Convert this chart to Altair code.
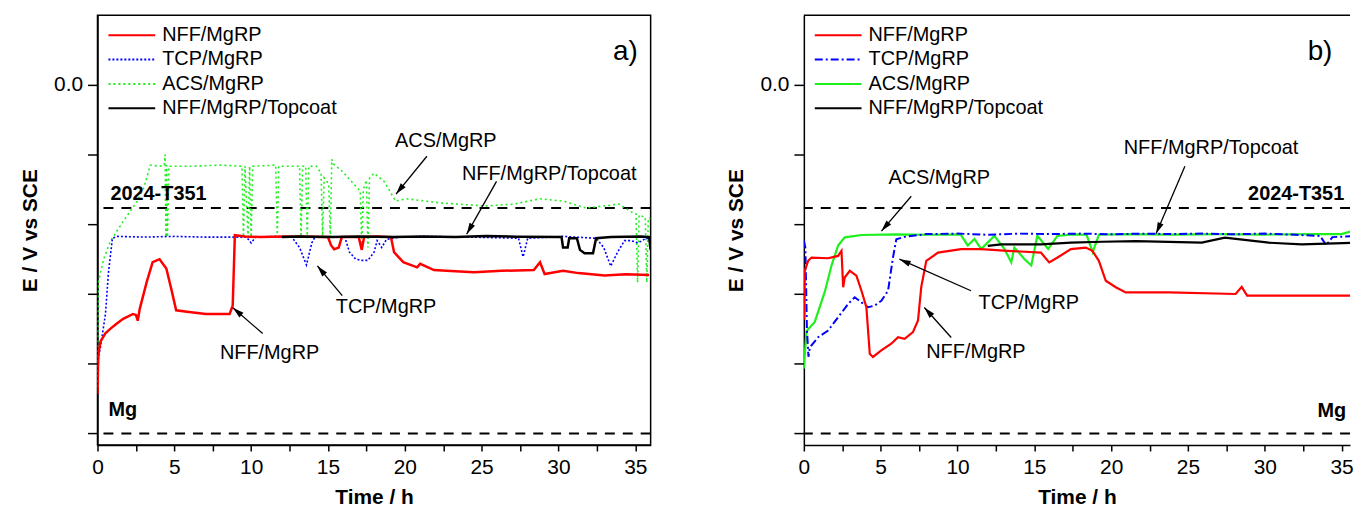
import math
import altair as alt
import pandas as pd

FONT = "Liberation Sans"
SERIES = ["NFF/MgRP", "TCP/MgRP", "ACS/MgRP", "NFF/MgRP/Topcoat"]
COLORS = ["#ff0000", "#0000ff", "#1ef01e", "#000000"]

# ---------------- panel a) ----------------
a_nff_t = [0, 0.03, 0.06, 0.19, 0.5, 0.83, 1.2, 1.67, 2.31, 2.5, 2.62, 2.75, 3.2, 3.59, 4.04, 4.48, 4.8, 5.12,
           5.96, 7.05, 8.6, 8.8, 8.94, 9.6, 10.6, 12.1, 15.0, 15.2, 15.4, 15.7, 15.9, 17.0, 17.2, 17.35, 18.2,
           19.1, 19.3, 19.9, 20.8, 21.0, 21.9, 22.7, 24.5, 26.3, 28.4, 28.8, 29.1, 30.3, 31.3, 33.0, 34.4, 35.9]
a_nff_e = [-1.33, -1.22, -1.16, -1.105, -1.07, -1.05, -1.03, -1.007, -0.986, -0.99, -1.015, -0.964, -0.849,
           -0.763, -0.75, -0.79, -0.878, -0.97, -0.977, -0.986, -0.986, -0.95, -0.647, -0.652, -0.655, -0.652,
           -0.655, -0.69, -0.707, -0.70, -0.655, -0.655, -0.71, -0.655, -0.652, -0.655, -0.72, -0.763, -0.785,
           -0.77, -0.797, -0.80, -0.806, -0.80, -0.797, -0.763, -0.814, -0.80, -0.81, -0.82, -0.815, -0.818]

a_tcp_t = [0, 0.1, 0.19, 0.35, 0.52, 0.71, 0.97, 1.3, 3, 5, 7, 9.7, 10.0, 10.3, 11.6, 12.65, 13.15, 13.6, 13.95,
           14.15, 16.1, 16.4, 16.8, 17.2, 17.6, 18.0, 18.2, 18.5, 18.8, 19.7, 21.2, 24.3, 27.4, 27.7, 28.0, 30.3,
           32.45, 32.95, 33.4, 33.85, 34.3, 34.7, 35.2, 35.7, 36.0]
a_tcp_e = [-1.2, -1.16, -1.13, -1.06, -0.985, -0.81, -0.66, -0.652, -0.655, -0.652, -0.655, -0.655, -0.68,
           -0.655, -0.652, -0.655, -0.70, -0.775, -0.68, -0.655, -0.655, -0.72, -0.75, -0.755, -0.755, -0.72,
           -0.67, -0.70, -0.665, -0.655, -0.652, -0.655, -0.66, -0.74, -0.66, -0.652, -0.66, -0.70, -0.78, -0.72,
           -0.67, -0.67, -0.68, -0.66, -0.665]

a_acs_t = [0, 0.02, 0.05, 0.4, 0.84, 1.69, 2.59, 3.03, 3.44, 4.04, 4.35, 4.4, 4.45, 4.5, 4.55, 4.65, 6.07, 8.1,
           9.4, 9.5, 9.6, 9.8, 9.9, 10.0, 10.1, 10.2, 11.6, 11.7, 11.8, 13.15, 13.25, 13.35, 13.55, 13.65, 13.75,
           14.25, 14.55, 14.65, 14.75, 15.05, 15.15, 15.25, 15.35, 15.93, 17.1, 17.2, 17.3, 17.5, 17.6, 17.7,
           18.0, 18.65, 19.4, 20.1, 22.35, 25.2, 27.1, 28.8, 30.3, 31.8, 33.95, 34.85, 35.05, 35.15, 35.25,
           35.65, 35.75, 35.85, 36.0]
a_acs_e = [-1.30, -1.05, -0.85, -0.75, -0.672, -0.586, -0.50, -0.44, -0.345, -0.35, -0.345, -0.30, -0.655,
           -0.345, -0.655, -0.35, -0.35, -0.345, -0.35, -0.655, -0.35, -0.655, -0.35, -0.655, -0.35, -0.35, -0.345,
           -0.655, -0.35, -0.35, -0.655, -0.35, -0.35, -0.66, -0.35, -0.35, -0.38, -0.65, -0.40, -0.427, -0.655,
           -0.32, -0.34, -0.372, -0.457, -0.70, -0.45, -0.41, -0.70, -0.402, -0.38, -0.415, -0.50, -0.49, -0.508,
           -0.521, -0.513, -0.49, -0.50, -0.53, -0.513, -0.551, -0.555, -0.85, -0.56, -0.57, -0.85, -0.573, -0.575]

a_top_t = [12.0, 13.1, 15.2, 17.2, 19.2, 21.2, 23.3, 25.3, 27.3, 30.2, 30.3, 30.6, 30.7, 31.2, 31.4, 31.7,
           32.25, 32.45, 33.4, 35.4, 35.9, 36.0]
a_top_e = [-0.655, -0.652, -0.655, -0.652, -0.655, -0.652, -0.655, -0.65, -0.653, -0.655, -0.70, -0.70, -0.66,
           -0.66, -0.71, -0.725, -0.725, -0.66, -0.655, -0.652, -0.655, -0.71]

a_ann_text = ["ACS/MgRP", "NFF/MgRP/Topcoat", "TCP/MgRP", "NFF/MgRP"]
a_ann_t = [22.67, 29.4, 18.78, 11.2]
a_ann_e = [-0.243, -0.385, -0.955, -1.152]
a_arr_t0 = [21.44, 25.97, 15.93, 10.75]
a_arr_e0 = [-0.307, -0.415, -0.907, -1.07]
a_arr_t1 = [19.43, 24.03, 14.31, 8.81]
a_arr_e1 = [-0.47, -0.642, -0.779, -0.959]

# ---------------- panel b) ----------------
b_nff_t = [0, 0.04, 0.06, 0.28, 0.5, 1.58, 2.23, 2.45, 2.56, 2.66, 2.99, 3.42, 3.75, 4.07, 4.29, 4.5, 5.04,
           5.69, 6.13, 6.56, 7.1, 7.43, 7.64, 7.97, 8.73, 10.23, 11.54, 13.27, 15.43, 15.97, 16.51, 17.38, 18.35,
           18.78, 19.2, 19.65, 20.3, 20.95, 23.77, 28.1, 28.5, 28.85, 30.26, 36]
b_nff_e = [-0.85, -1.01, -0.80, -0.757, -0.743, -0.746, -0.736, -0.714, -0.871, -0.829, -0.80, -0.821, -0.886,
           -0.957, -1.157, -1.171, -1.143, -1.114, -1.086, -1.093, -1.064, -1.014, -0.871, -0.757, -0.722,
           -0.707, -0.707, -0.714, -0.722, -0.764, -0.743, -0.707, -0.70, -0.714, -0.757, -0.843, -0.871, -0.893,
           -0.893, -0.90, -0.869, -0.907, -0.907, -0.907]

b_tcp_t = [0, 0.1, 0.2, 0.3, 0.39, 0.93, 1.58, 2.23, 2.88, 3.31, 3.75, 4.18, 4.61, 5.04, 5.48, 5.8, 6.02, 6.56,
           8, 10, 12, 14, 16, 18, 20, 22, 24, 26, 28, 30, 32, 33.6, 34.0, 34.4, 36]
b_tcp_e = [-0.67, -0.70, -1.05, -1.17, -1.13, -1.086, -1.057, -1.0, -0.943, -0.914, -0.936, -0.957, -0.95,
           -0.929, -0.886, -0.743, -0.664, -0.654, -0.642, -0.64, -0.645, -0.64, -0.642, -0.64, -0.643, -0.64,
           -0.642, -0.64, -0.643, -0.64, -0.645, -0.65, -0.69, -0.655, -0.65]

b_acs_t = [0, 0.17, 0.71, 1.36, 1.8, 2.23, 2.66, 3.75, 6, 8, 10.2, 10.67, 11.1, 11.54, 12.4, 13.05, 13.5, 13.7,
           14.35, 14.8, 15.2, 15.9, 16.5, 17.5, 18.4, 18.8, 19.2, 21, 24, 27, 30, 33, 35.0, 35.6, 36]
b_acs_e = [-1.22, -1.06, -1.02, -0.891, -0.777, -0.691, -0.656, -0.646, -0.643, -0.645, -0.643, -0.691, -0.663,
           -0.706, -0.65, -0.706, -0.763, -0.70, -0.749, -0.777, -0.649, -0.706, -0.65, -0.643, -0.645, -0.72,
           -0.645, -0.642, -0.644, -0.642, -0.644, -0.642, -0.642, -0.63, -0.64]

b_top_t = [11.97, 12.84, 15.43, 17.38, 19.43, 21.6, 25.9, 27.4, 30.26, 32.4, 36]
b_top_e = [-0.693, -0.686, -0.686, -0.679, -0.675, -0.672, -0.679, -0.657, -0.679, -0.686, -0.679]

b_ann_text = ["ACS/MgRP", "NFF/MgRP/Topcoat", "TCP/MgRP", "NFF/MgRP"]
b_ann_t = [8.81, 26.5, 14.64, 11.2]
b_ann_e = [-0.40, -0.272, -0.937, -1.15]
b_arr_t0 = [6.99, 24.8, 10.88, 9.59]
b_arr_e0 = [-0.479, -0.35, -0.886, -1.087]
b_arr_t1 = [5.05, 22.93, 6.22, 7.84]
b_arr_e1 = [-0.629, -0.64, -0.75, -0.958]

# reference potentials
REF_E = [-0.53, -1.50]

Y_DOMAIN = [-1.55, 0.30]
H = 432
W_A = 556
W_B = 549
X_MAX_A = 36.0
X_MAX_B = 36.0 * W_B / W_A
ARROW = "M0,0L0.55,2L-0.55,2Z"


def make_panel(curves, dashes, widths, ann, bold, letter, width, xmax, framed):
    pxh = width / xmax
    pxv = H / (Y_DOMAIN[1] - Y_DOMAIN[0])
    xs = alt.Scale(domain=[0, xmax], nice=False, zero=False)
    ys = alt.Scale(domain=Y_DOMAIN, nice=False, zero=False)
    x_axis = alt.Axis(values=[i * 2.5 for i in range(15)], format="d",
                      labelExpr="datum.value % 5 === 0 ? datum.label : ''",
                      title="Time / h", labelFlush=False, labelOverlap=False)
    y_axis = alt.Axis(values=[-1.5, -1.2, -0.9, -0.6, -0.3, 0.0], format=".1f",
                      labelExpr="indexof(['0.0','-0.6','-1.2'], datum.label) >= 0 ? datum.label : ''",
                      title="E / V vs SCE", labelOverlap=False)
    X = alt.X("t:Q", scale=xs, axis=x_axis)
    Y = alt.Y("E:Q", scale=ys, axis=y_axis)

    layers = []
    layers.append(alt.Chart(pd.DataFrame({"E": REF_E})).mark_rule(
        color="black", strokeWidth=2, strokeDash=[10, 8]).encode(y=Y))

    for k in [2, 1, 0, 3]:
        t, e = curves[k]
        df = pd.DataFrame({"t": t, "E": e, "i": list(range(len(t)))})
        mk = dict(color=COLORS[k], strokeWidth=widths[k], clip=True)
        if dashes[k]:
            mk["strokeDash"] = dashes[k]
        layers.append(alt.Chart(df).mark_line(**mk).encode(x=X, y=Y, order="i:Q"))

    txt, at, ae, t0, e0, t1, e1 = ann
    layers.append(alt.Chart(pd.DataFrame({"label": txt, "t": at, "E": ae})).mark_text(
        font=FONT, fontSize=20, color="black").encode(x=X, y=Y, text="label:N"))
    layers.append(alt.Chart(pd.DataFrame({"t": t0, "E": e0, "t2": t1, "E2": e1})).mark_rule(
        color="black", strokeWidth=1.3).encode(x=X, y=Y, x2="t2:Q", y2="E2:Q"))
    ang = [math.degrees(math.atan2((b - a) * pxh, (d - c) * pxv)) % 360
           for a, b, c, d in zip(t0, t1, e0, e1)]
    layers.append(alt.Chart(pd.DataFrame({"t": t1, "E": e1, "ang": ang})).mark_point(
        shape=ARROW, filled=True, color="black", size=130, opacity=1, strokeWidth=0).encode(
        x=X, y=Y, angle=alt.Angle("ang:Q", scale=None)))

    for name, bt, be, align in bold:
        layers.append(alt.Chart(pd.DataFrame({"label": [name], "t": [bt], "E": [be]})).mark_text(
            font=FONT, fontSize=20, fontWeight="bold", align=align, baseline="middle",
            color="black").encode(x=X, y=Y, text="label:N"))

    lname, lt, le = letter
    layers.append(alt.Chart(pd.DataFrame({"label": [lname], "t": [lt], "E": [le]})).mark_text(
        font=FONT, fontSize=28, align="right", baseline="middle", color="black").encode(
        x=X, y=Y, text="label:N"))

    for i, name in enumerate(SERIES):
        yv = 20 + 24.5 * i
        mk = dict(color=COLORS[i], strokeWidth=2)
        if dashes[i]:
            mk["strokeDash"] = dashes[i]
        one = pd.DataFrame({"label": [name]})
        layers.append(alt.Chart(one).mark_rule(**mk).encode(
            x=alt.value(11), x2=alt.value(58), y=alt.value(yv)))
        layers.append(alt.Chart(one).mark_text(
            font=FONT, fontSize=20, align="left", baseline="middle", color="black").encode(
            x=alt.value(65), y=alt.value(yv), text="label:N"))

    if not framed:
        layers.append(alt.Chart(pd.DataFrame({"a": [0]})).mark_rule(
            color="black", strokeWidth=1.5).encode(
            x=alt.value(0), x2=alt.value(width), y=alt.value(0)))

    ch = alt.layer(*layers).properties(width=width, height=H)
    if not framed:
        ch = ch.properties(view=alt.ViewBackground(stroke=None))
    return ch


pa = make_panel(
    [(a_nff_t, a_nff_e), (a_tcp_t, a_tcp_e), (a_acs_t, a_acs_e), (a_top_t, a_top_e)],
    [None, [2, 2], [2, 3], None], [2.5, 1.6, 1.6, 2.5],
    (a_ann_text, a_ann_t, a_ann_e, a_arr_t0, a_arr_e0, a_arr_t1, a_arr_e1),
    [("2024-T351", 0.84, -0.47, "left"), ("Mg", 0.71, -1.40, "left")],
    ("a)", 35.17, 0.143), W_A, X_MAX_A, True)

pb = make_panel(
    [(b_nff_t, b_nff_e), (b_tcp_t, b_tcp_e), (b_acs_t, b_acs_e), (b_top_t, b_top_e)],
    [None, [8, 3, 2, 3], None, None], [2.2, 2.0, 2.2, 2.2],
    (b_ann_text, b_ann_t, b_ann_e, b_arr_t0, b_arr_e0, b_arr_t1, b_arr_e1),
    [("2024-T351", 35.17, -0.47, "right"), ("Mg", 35.3, -1.405, "right")],
    ("b)", 34.4, 0.143), W_B, X_MAX_B, False)

chart = alt.hconcat(pa, pb, spacing=73).properties(
    padding={"left": 19, "top": 13, "right": 0, "bottom": 0},
    background="white",
).configure_view(
    stroke="black", strokeWidth=1.5
).configure_axis(
    labelFont=FONT, labelFontSize=21, labelColor="black",
    titleFont=FONT, titleFontSize=21, titleFontWeight="bold", titleColor="black",
    domainColor="black", domainWidth=1.5, tickColor="black", tickWidth=1.5,
    grid=False
).configure_axisY(
    tickSize=10, labelPadding=5, titlePadding=13
).configure_axisX(
    tickSize=6, labelPadding=6, titlePadding=9
)

chart.save("out.html", embed_options={"renderer": "svg", "actions": False})
